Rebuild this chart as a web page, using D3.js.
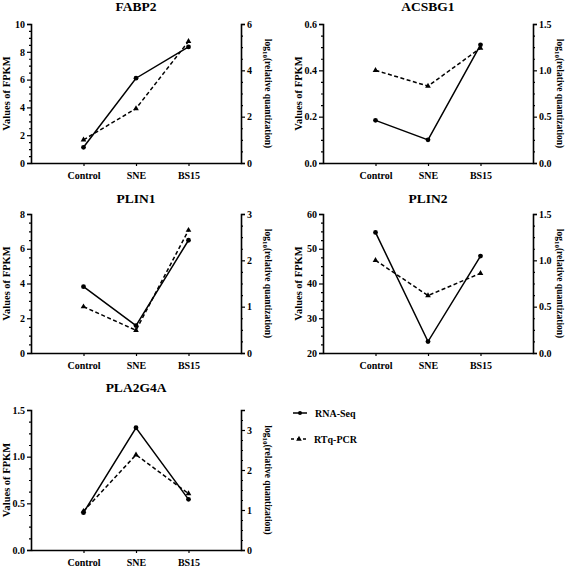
<!DOCTYPE html>
<html><head><meta charset="utf-8">
<script src="https://cdn.jsdelivr.net/npm/d3@7"></script>
<style>body{margin:0;background:#fff}svg{display:block}text{font-family:"Liberation Serif","Times New Roman",serif;font-weight:bold;fill:#000}</style>
</head><body>
<svg id="c" width="567" height="567"></svg>
<script>
const categories = ["Control", "SNE", "BS15"];
const genes = ["FABP2", "ACSBG1", "PLIN1", "PLIN2", "PLA2G4A"];
const rnaSeq = [
  [1.13, 6.1, 8.35],
  [0.184, 0.10, 0.51],
  [3.82, 1.58, 6.49],
  [54.7, 23.3, 47.9],
  [0.40, 1.31, 0.543]
];
const rtqPcr = [
  [1.0, 2.35, 5.25],
  [1.0, 0.83, 1.24],
  [1.0, 0.49, 2.65],
  [1.0, 0.62, 0.86],
  [0.97, 2.38, 1.41]
];
const leftDomains = [[0, 10], [0, 0.6], [0, 8], [20, 60], [0, 1.5]];
const leftTicks = [[0, 2, 4, 6, 8, 10], [0, 0.2, 0.4, 0.6], [0, 2, 4, 6, 8], [20, 30, 40, 50, 60], [0, 0.5, 1.0, 1.5]];
const leftFormats = ["d", ".1f", "d", "d", ".1f"];
const rightDomains = [[0, 6], [0, 1.5], [0, 3], [0, 1.5], [0, 3.5]];
const rightTicks = [[0, 2, 4, 6], [0, 0.5, 1.0, 1.5], [0, 1, 2, 3], [0, 0.5, 1.0, 1.5], [0, 1, 2, 3]];
const rightFormats = ["d", ".1f", "d", ".1f", "d"];
const seriesNames = ["RNA-Seq", "RTq-PCR"];

const svg = d3.select("#c");
const layout = [
  {x0: 31, x1: 241, y0: 24, y1: 163, ty: 11},
  {x0: 323, x1: 533, y0: 24, y1: 163, ty: 11},
  {x0: 31, x1: 241, y0: 214, y1: 353, ty: 203},
  {x0: 323, x1: 533, y0: 214, y1: 353, ty: 203},
  {x0: 31, x1: 241, y0: 410, y1: 550, ty: 392}
];
const tri = d3.symbol().type(d3.symbolTriangle).size(14);

function minorTicks(ticks, domain) {
  const step = (ticks[1] - ticks[0]) / 4;
  const out = [];
  for (let v = domain[0]; v <= domain[1] + 1e-9; v += step) {
    const r = Math.round(v * 1e6) / 1e6;
    if (!ticks.some(t => Math.abs(t - r) < 1e-9)) out.push(r);
  }
  return out;
}

genes.forEach((g, i) => {
  const L = layout[i];
  const gp = svg.append("g");
  const x = d3.scalePoint().domain(categories).range([L.x0, L.x1]).padding(1);
  const yL = d3.scaleLinear().domain(leftDomains[i]).range([L.y1, L.y0]);
  const yR = d3.scaleLinear().domain(rightDomains[i]).range([L.y1, L.y0]);

  gp.append("text").attr("x", (L.x0 + L.x1) / 2).attr("y", L.ty)
    .attr("text-anchor", "middle").style("font-size", "13.5px").text(g);

  gp.append("g").attr("transform", `translate(${L.x0},0)`)
    .call(d3.axisLeft(yL).tickValues(leftTicks[i]).tickFormat(d3.format(leftFormats[i])).tickSize(4).tickPadding(2));
  gp.append("g").attr("transform", `translate(${L.x0},0)`)
    .call(d3.axisLeft(yL).tickValues(minorTicks(leftTicks[i], leftDomains[i])).tickFormat("").tickSize(2))
    .select(".domain").remove();
  gp.append("g").attr("transform", `translate(${L.x1},0)`)
    .call(d3.axisRight(yR).tickValues(rightTicks[i]).tickFormat(d3.format(rightFormats[i])).tickSize(4).tickPadding(2));
  gp.append("g").attr("transform", `translate(${L.x1},0)`)
    .call(d3.axisRight(yR).tickValues(minorTicks(rightTicks[i], rightDomains[i])).tickFormat("").tickSize(2))
    .select(".domain").remove();
  gp.append("g").attr("transform", `translate(0,${L.y1})`)
    .call(d3.axisBottom(x).tickSize(3).tickPadding(6).tickSizeOuter(0));

  gp.selectAll(".domain").attr("stroke", "#000").attr("stroke-width", 1.6);
  gp.selectAll(".tick line").attr("stroke", "#000").attr("stroke-width", 1.2);
  gp.selectAll(".tick text").style("font-size", "10px").style("font-family", "Liberation Serif").style("font-weight", "bold");

  const my = (L.y0 + L.y1) / 2;
  gp.append("text").attr("transform", `translate(${L.x0 - 21},${my}) rotate(-90)`)
    .attr("text-anchor", "middle").style("font-size", "10.5px").text("Values of FPKM");
  const rl = gp.append("text").attr("transform", `translate(${L.x1 + 24},${my}) rotate(90)`)
    .attr("text-anchor", "middle").style("font-size", "9.5px");
  rl.append("tspan").text("log");
  rl.append("tspan").attr("dy", 2.5).style("font-size", "7px").text("10");
  rl.append("tspan").attr("dy", -2.5).text("(relative quantization)");

  const rows = categories.map((c, k) => ({c, a: rnaSeq[i][k], b: rtqPcr[i][k]}));
  gp.append("path").datum(rows)
    .attr("d", d3.line().x(d => x(d.c)).y(d => yL(d.a)))
    .attr("fill", "none").attr("stroke", "#000").attr("stroke-width", 1.5);
  gp.selectAll(".dotA").data(rows).enter().append("circle")
    .attr("cx", d => x(d.c)).attr("cy", d => yL(d.a)).attr("r", 2.4).attr("fill", "#000");
  gp.append("path").datum(rows)
    .attr("d", d3.line().x(d => x(d.c)).y(d => yR(d.b)))
    .attr("fill", "none").attr("stroke", "#000").attr("stroke-width", 1.5).attr("stroke-dasharray", "4,2.5");
  gp.selectAll(".triB").data(rows).enter().append("path")
    .attr("d", tri).attr("transform", d => `translate(${x(d.c)},${yR(d.b)})`).attr("fill", "#000");
});

const lg = svg.append("g");
lg.append("line").attr("x1", 293).attr("x2", 307).attr("y1", 413).attr("y2", 413)
  .attr("stroke", "#000").attr("stroke-width", 1.5);
lg.append("circle").attr("cx", 300).attr("cy", 413).attr("r", 2).attr("fill", "#000");
lg.append("text").attr("x", 315).attr("y", 417).style("font-size", "10px").text(seriesNames[0]);
lg.append("line").attr("x1", 291).attr("x2", 307).attr("y1", 439).attr("y2", 439)
  .attr("stroke", "#000").attr("stroke-width", 1.5).attr("stroke-dasharray", "3,3");
lg.append("path").attr("d", tri).attr("transform", "translate(299,439)").attr("fill", "#000");
lg.append("text").attr("x", 314).attr("y", 443).style("font-size", "10px").text(seriesNames[1]);
</script>
</body></html>
